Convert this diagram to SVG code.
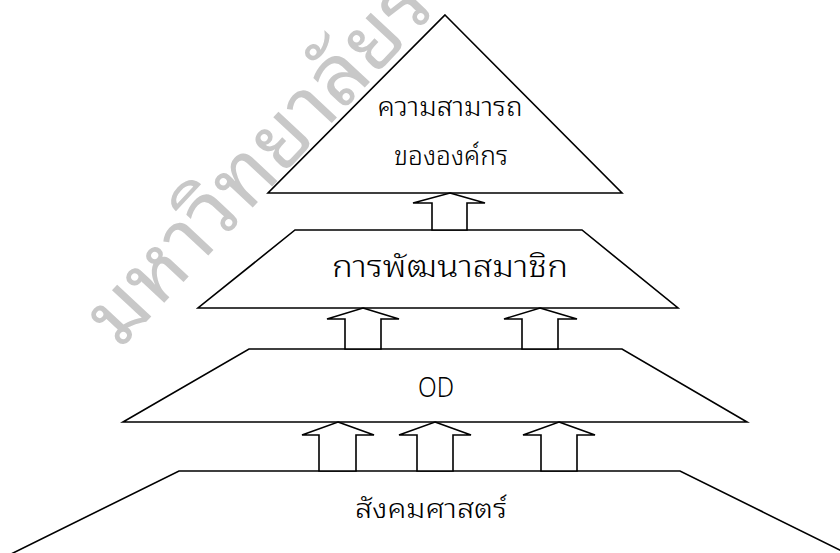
<svg xmlns="http://www.w3.org/2000/svg" width="840" height="553" viewBox="0 0 840 553">
<style>
.shape{fill:none;stroke:#000000;stroke-width:1.6;stroke-linejoin:miter}
.arrow{fill:#ffffff;stroke:#000000;stroke-width:1.6;stroke-linejoin:miter}
.lbl{font-family:"Noto Sans Thai Looped","Noto Sans Thai","Noto Sans","Liberation Sans",sans-serif;font-weight:300;fill:#000000;text-anchor:middle}
.wm{font-family:"Noto Sans Thai Looped","Noto Sans Thai","Noto Sans","Liberation Sans",sans-serif;font-weight:400;fill:#c8c8c8}
</style>
<rect width="840" height="553" fill="#ffffff"/>
<text class="wm" x="0" y="0" font-size="84" transform="translate(120,350) rotate(-47)">มหาวิทยาลัยร</text>
<g id="base">
<polygon class="shape" points="179,471 680,471 852,556 7,556"/>
<text class="lbl" x="431" y="518" font-size="27" textLength="152" lengthAdjust="spacingAndGlyphs">สังคมศาสตร์</text>
</g>
<g id="od">
<polygon class="shape" points="249,349 622,349 747,422 123,422"/>
<text class="lbl" x="436" y="397" font-size="27" textLength="36" lengthAdjust="spacingAndGlyphs">OD</text>
</g>
<g id="members">
<polygon class="shape" points="295,230 582,230 678,308 198,308"/>
<text class="lbl" x="450" y="277" font-size="30" textLength="236" lengthAdjust="spacingAndGlyphs">การพัฒนาสมาชิก</text>
</g>
<g id="capability">
<polygon class="shape" points="445,15 622,193 268,193"/>
<text class="lbl" x="450" y="116" font-size="26" textLength="145" lengthAdjust="spacingAndGlyphs">ความสามารถ</text>
<text class="lbl" x="451" y="165" font-size="26" textLength="114" lengthAdjust="spacingAndGlyphs">ขององค์กร</text>
</g>
<g id="connectors">
<polygon class="arrow" points="450,193 485,203 467,203 467,230 432,230 432,203 413,203"/>
<polygon class="arrow" points="363,308 399,319 381,319 381,349 345,349 345,319 327,319"/>
<polygon class="arrow" points="540,308 577,319 558,319 558,349 522,349 522,319 504,319"/>
<polygon class="arrow" points="338,422 374,435 356,435 356,471 319,471 319,435 302,435"/>
<polygon class="arrow" points="435,422 471,435 453,435 453,471 417,471 417,435 399,435"/>
<polygon class="arrow" points="559,422 595,435 577,435 577,471 541,471 541,435 523,435"/>
</g>
</svg>
